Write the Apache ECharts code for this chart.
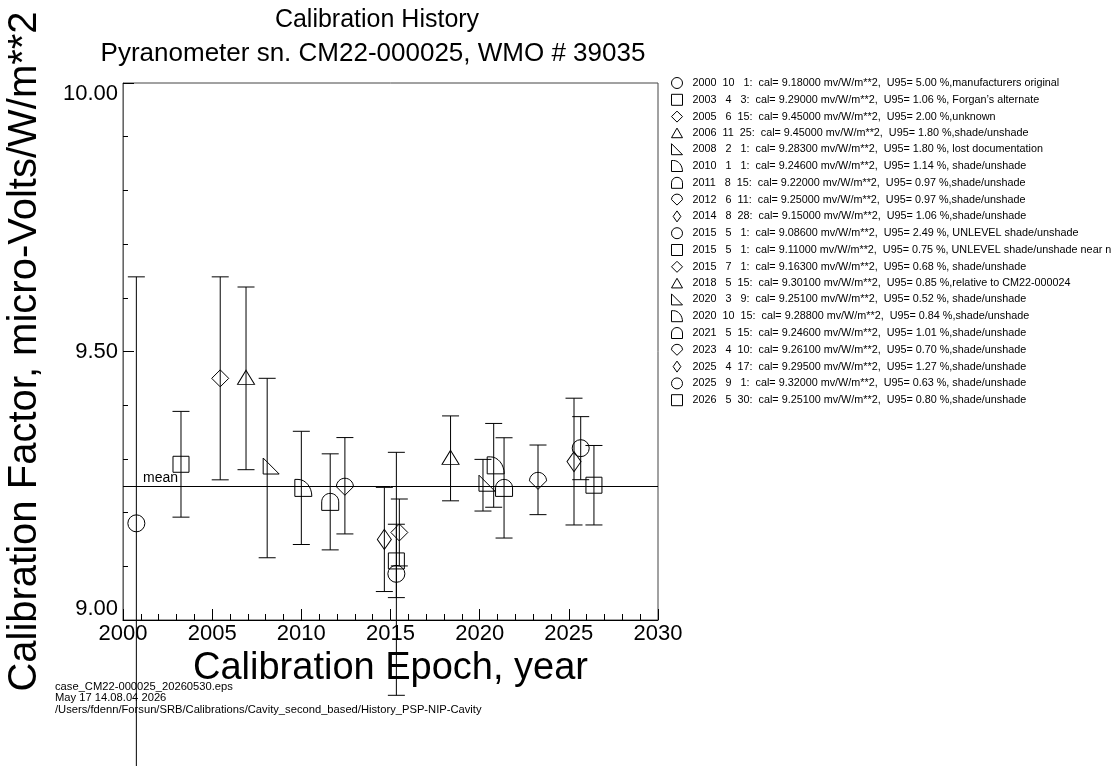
<!DOCTYPE html>
<html>
<head>
<meta charset="utf-8">
<script src="https://cdn.jsdelivr.net/npm/echarts@6/dist/echarts.min.js"></script>
<style>
html,body{margin:0;padding:0;background:#fff;}
#chart{width:1116px;height:766px;}
</style>
</head>
<body>
<div id="chart"></div>
<script>
// ---- data ----
const years  = [2000,2003,2005,2006,2008,2010,2011,2012,2014,2015,2015,2015,2018,2020,2020,2021,2023,2025,2025,2026];
const months = [10,4,6,11,2,1,8,6,8,5,5,7,5,3,10,5,4,4,9,5];
const days   = [1,3,15,25,1,1,15,11,28,1,1,1,15,9,15,15,10,17,1,30];
const cal    = [9.18,9.29,9.45,9.45,9.283,9.246,9.22,9.25,9.15,9.086,9.11,9.163,9.301,9.251,9.288,9.246,9.261,9.295,9.32,9.251];
const u95    = [5.00,1.06,2.00,1.80,1.80,1.14,0.97,0.97,1.06,2.49,0.75,0.68,0.85,0.52,0.84,1.01,0.70,1.27,0.63,0.80];
const notes  = [",manufacturers original",", Forgan\u2019s alternate",",unknown",",shade/unshade",", lost documentation",
                ", shade/unshade",",shade/unshade",",shade/unshade",",shade/unshade",", UNLEVEL shade/unshade",
                ", UNLEVEL shade/unshade near n",", shade/unshade",",relative to CM22-000024",", shade/unshade",",shade/unshade",
                ",shade/unshade",",shade/unshade",",shade/unshade",", shade/unshade",",shade/unshade"];
const xTickLabels = ['2000','2005','2010','2015','2020','2025','2030'];
const yTickLabels = ['9.00','9.50','10.00'];
const titleText = 'Calibration History';
const subTitleText = 'Pyranometer sn. CM22-000025, WMO # 39035';
const xName = 'Calibration Epoch, year';
const yName = 'Calibration Factor, micro-Volts/W/m**2';
const footer = ['case_CM22-000025_20260530.eps','May 17 14.08.04 2026','/Users/fdenn/Forsun/SRB/Calibrations/Cavity_second_based/History_PSP-NIP-Cavity'];

// ---- symbols (cycle of 9) ----
const shapes = [
  {symbol:'circle', size:17, offset:[0,0]},
  {symbol:'rect', size:16, offset:[0,0]},
  {symbol:'path://M8 0 L16 8 L8 16 L0 8 Z', size:[17,17], offset:[0,0]},
  {symbol:'path://M8 0 L16 14 L0 14 Z', size:[17,14], offset:[0,-1]},
  {symbol:'path://M0 0 L16 16 L0 16 Z', size:[16,16], offset:[4,-2]},
  {symbol:'path://M0 0 L3 0 C10 0 16 7 16 16 L0 16 Z', size:[17,17], offset:[2,0]},
  {symbol:'path://M0 16 L0 8 C0 3.6 3.6 0 8 0 C12.4 0 16 3.6 16 8 L16 16 Z', size:[17,17], offset:[0,0]},
  {symbol:'path://M0 8 C0 3.6 3.6 0 8 0 C12.4 0 16 3.6 16 8 L8 16 Z', size:[17,17], offset:[0,1]},
  {symbol:'path://M7 0 L14 10 L7 20 L0 10 Z', size:[14,20], offset:[0,0]}
];

function decYear(y,m,d){
  const start = Date.UTC(y,0,1), end = Date.UTC(y+1,0,1);
  return y + (Date.UTC(y,m-1,d) - start)/(end-start);
}
function pad(n,w){ let s=String(n); while(s.length<w) s=' '+s; return s; }

const xs = years.map((y,i)=>decYear(y,months[i],days[i]));
const meanVal = cal.reduce((a,b)=>a+b,0)/cal.length;
const names = years.map((y,i)=> `${y}${pad(months[i],4)}${pad(days[i],4)}:  cal= ${cal[i].toFixed(5)} mv/W/m**2,  U95= ${u95[i].toFixed(2)} %${notes[i]}`);
const errData = xs.map((x,i)=>{ const h = cal[i]*u95[i]/100; return [x, cal[i]-h, cal[i]+h]; });

const FONT = 'Liberation Sans, Arial, Helvetica, sans-serif';

const series = [];
series.push({
  type:'custom',
  name:'err',
  clip:false,
  silent:true,
  data: errData,
  encode:{x:0, y:[1,2]},
  renderItem:function(params, api){
    const lo = api.coord([api.value(0), api.value(1)]);
    const hi = api.coord([api.value(0), api.value(2)]);
    const w = 8.5;
    const st = {stroke:'#000', lineWidth:1, fill:null};
    return {type:'group', children:[
      {type:'line', shape:{x1:lo[0],y1:lo[1],x2:hi[0],y2:hi[1]}, style:st},
      {type:'line', shape:{x1:lo[0]-w,y1:lo[1],x2:lo[0]+w,y2:lo[1]}, style:st},
      {type:'line', shape:{x1:hi[0]-w,y1:hi[1],x2:hi[0]+w,y2:hi[1]}, style:st}
    ]};
  },
  markLine:{
    silent:true,
    symbol:'none',
    lineStyle:{color:'#000', width:1, type:'solid'},
    label:{show:true, position:'insideStartTop', formatter:'mean', color:'#000', fontSize:14, fontFamily:FONT, distance:[20,1]},
    data:[{yAxis: meanVal}]
  },
  z:2
});
names.forEach((nm,i)=>{
  const sh = shapes[i % shapes.length];
  series.push({
    type:'scatter',
    name:nm,
    symbol:sh.symbol,
    symbolSize:sh.size,
    symbolOffset:sh.offset,
    data:[[xs[i], cal[i]]],
    itemStyle:{color:'rgba(0,0,0,0)', borderColor:'#000', borderWidth:1, opacity:1},
    emphasis:{disabled:true},
    z:3
  });
});

const chart = echarts.init(document.getElementById('chart'), null, {renderer:'canvas'});
chart.setOption({
  animation:false,
  backgroundColor:'#fff',
  title:[
    {text:titleText, left:372, textAlign:'center', top:3, textStyle:{fontSize:25, fontWeight:'normal', color:'#000', fontFamily:FONT}},
    {text:subTitleText, left:368, textAlign:'center', top:36, textStyle:{fontSize:26, fontWeight:'normal', color:'#000', fontFamily:FONT}},
    {text:footer.join('\n'), left:50, top:676, textStyle:{fontSize:11.2, lineHeight:11.5, fontWeight:'normal', color:'#000', fontFamily:FONT}}
  ],
  legend:{
    orient:'vertical',
    left:666, top:72,
    itemWidth:11, itemHeight:11,
    itemGap:4.8,
    selectedMode:false,
    data:names,
    textStyle:{fontSize:10.8, color:'#000', fontFamily:FONT, padding:[0,0,0,5]},
    itemStyle:{color:'rgba(0,0,0,0)', borderColor:'#000', borderWidth:1}
  },
  grid:{left:123, right:458, top:83, bottom:146, show:true, borderColor:'#444', borderWidth:1, backgroundColor:'transparent'},
  xAxis:{
    type:'value', min:2000, max:2030, interval:5,
    name:xName, nameLocation:'middle', nameGap:20,
    nameTextStyle:{fontSize:38, color:'#000', fontFamily:FONT},
    axisLine:{show:true, lineStyle:{color:'#000', width:1}},
    axisTick:{show:true, inside:true, length:11, lineStyle:{color:'#000'}},
    minorTick:{show:true, splitNumber:5, length:6, lineStyle:{color:'#000'}},
    axisLabel:{show:true, margin:3, fontSize:22, color:'#000', fontFamily:FONT,
      formatter:function(v){ const idx = Math.round((v-2000)/5); return xTickLabels[idx] || ''; }},
    splitLine:{show:false}, minorSplitLine:{show:false}
  },
  yAxis:{
    type:'value', min:9, max:10, interval:0.5,
    name:yName, nameLocation:'middle', nameGap:78, nameRotate:90,
    nameTextStyle:{fontSize:40, color:'#000', fontFamily:FONT},
    axisLine:{show:true, lineStyle:{color:'#666', width:1}},
    axisTick:{show:true, inside:true, length:11, lineStyle:{color:'#000'}},
    minorTick:{show:true, splitNumber:5, length:5, lineStyle:{color:'#000'}},
    axisLabel:{show:true, margin:5, fontSize:22, color:'#000', fontFamily:FONT,
      verticalAlignMinLabel:'bottom', verticalAlignMaxLabel:'top',
      formatter:function(v){ const idx = Math.round((v-9)/0.5); return yTickLabels[idx] || ''; }},
    splitLine:{show:false}, minorSplitLine:{show:false}
  },
  series:series
});
</script>
</body>
</html>
